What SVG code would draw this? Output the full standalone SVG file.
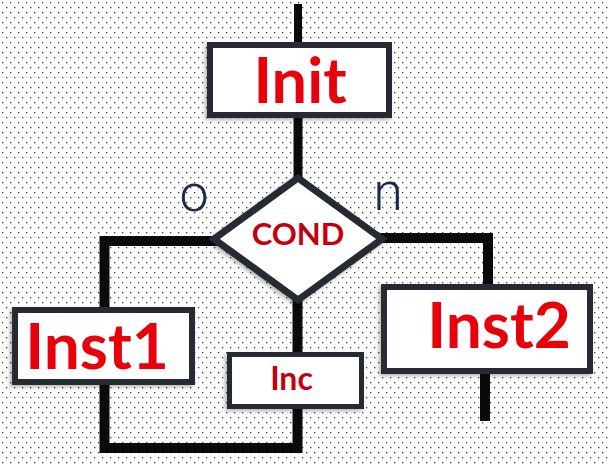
<svg xmlns="http://www.w3.org/2000/svg" width="608" height="466" viewBox="0 0 608 466">
  <defs>
    <pattern id="dots" x="0" y="0" width="8" height="10" patternUnits="userSpaceOnUse">
      <rect x="2" y="2" width="1.3" height="1.3" fill="#3a3a3a"/>
      <rect x="6" y="7" width="1.3" height="1.3" fill="#3a3a3a"/>
    </pattern>
    <filter id="shadow" x="-10%" y="-20%" width="120%" height="140%">
      <feDropShadow dx="-2" dy="2" stdDeviation="2" flood-color="#000" flood-opacity="0.3"/>
    </filter>
  </defs>
  <style>
    .wire { fill: none; stroke: #0a0a0a; stroke-width: 10; stroke-linejoin: miter; stroke-linecap: square; }
    .box { fill: #ffffff; stroke: #252a33; stroke-width: 6; filter: url(#shadow); }
    .big { font-family: Lato, "Liberation Sans", Arial, sans-serif; font-weight: bold; fill: #e8000b; text-anchor: middle; }
    .small { font-family: Lato, "Liberation Sans", Arial, sans-serif; font-weight: bold; fill: #c40010; text-anchor: middle; }
    .lbl { font-family: Roboto, "Open Sans", sans-serif; font-weight: 300; fill: #1c2a4f; text-anchor: middle; }
  </style>
  <rect width="608" height="466" fill="#ffffff"/>
  <rect width="608" height="466" fill="url(#dots)"/>

  <g id="connectors">
    <path class="wire" d="M298,8 V44" style="stroke-width:8"/>
    <path class="wire" d="M298,116 V178" style="stroke-width:9"/>
    <path class="wire" d="M214,241 H104.5 V308"/>
    <path class="wire" d="M104.5,384 V448 H297.5 V408"/>
    <path class="wire" d="M297.5,300 V353"/>
    <path class="wire" d="M382,238 H488 V285"/>
    <path class="wire" d="M485,373 V416"/>
  </g>

  <g id="init">
    <rect class="box" x="210" y="45" width="179" height="70"/>
    <text class="big" x="300" y="103" font-size="63">Init</text>
  </g>

  <g id="cond">
    <path d="M298,178 L382,239 L298,300 L214,239 Z" fill="#ffffff" stroke="#252a33" stroke-width="7" stroke-linejoin="miter" filter="url(#shadow)"/>
    <text class="small" x="298" y="245" font-size="31">COND</text>
  </g>

  <g id="label-o">
    <text class="lbl" x="194" y="211" font-size="52">o</text>
  </g>
  <g id="label-n">
    <text class="lbl" x="388" y="210" font-size="54">n</text>
  </g>

  <g id="inst1">
    <rect class="box" x="15" y="310" width="177" height="72"/>
    <text class="big" x="97" y="369" font-size="64">Inst1</text>
  </g>

  <g id="inst2">
    <rect class="box" x="384" y="287" width="206" height="84"/>
    <text class="big" x="499" y="348" font-size="64">Inst2</text>
  </g>

  <g id="inc">
    <rect class="box" x="229.5" y="354.5" width="132" height="52" style="stroke-width:5"/>
    <text class="small" x="291.5" y="390" font-size="32">Inc</text>
  </g>
</svg>
